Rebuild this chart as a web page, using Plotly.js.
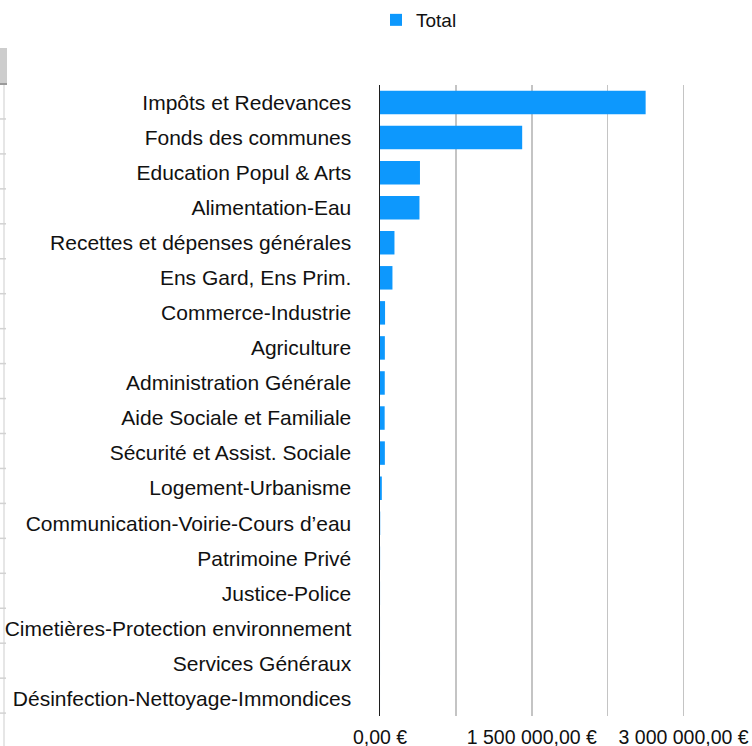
<!DOCTYPE html>
<html>
<head>
<meta charset="utf-8">
<script src="https://cdn.plot.ly/plotly-3.0.1.min.js"></script>
<style>html,body{margin:0;padding:0;background:#fff;}#chart{width:752px;height:746px;}</style>
</head>
<body>
<div id="chart"></div>
<script>
const categories = [
  "Impôts et Redevances",
  "Fonds des communes",
  "Education Popul & Arts",
  "Alimentation-Eau",
  "Recettes et dépenses générales",
  "Ens Gard, Ens Prim.",
  "Commerce-Industrie",
  "Agriculture",
  "Administration Générale",
  "Aide Sociale et Familiale",
  "Sécurité et Assist. Sociale",
  "Logement-Urbanisme",
  "Communication-Voirie-Cours d’eau",
  "Patrimoine Privé",
  "Justice-Police",
  "Cimetières-Protection environnement",
  "Services Généraux",
  "Désinfection-Nettoyage-Immondices"
];
const totals = [2625000, 1405000, 395000, 390000, 143000, 123000, 50000, 48000, 47000, 46000, 48000, 18000, 2000, 1000, 500, 300, 200, 100];
const seriesName = "Total";
const xTickVals = [0, 750000, 1500000, 2250000, 3000000];
const xTickText = ["0,00 €", "", "1 500 000,00 €", "", "3 000 000,00 €"];

const W = 752, H = 746;
const M = {l: 380, r: 0, t: 85, b: 30};
const plotW = W - M.l - M.r, plotH = H - M.t - M.b;
const px = v => (v - M.l) / plotW;
const py = v => (H - M.b - v) / plotH;

// decorative spreadsheet row-header strip at the left edge
const shapes = [];
shapes.push({type: 'rect', xref: 'paper', yref: 'paper', x0: px(0), x1: px(7), y0: py(84), y1: py(48),
  fillcolor: '#cdcdcd', line: {width: 0}, layer: 'below'});
shapes.push({type: 'line', xref: 'paper', yref: 'paper', x0: px(0), x1: px(7), y0: py(84), y1: py(84),
  line: {color: '#9a9a9a', width: 2}});
shapes.push({type: 'line', xref: 'paper', yref: 'paper', x0: px(4), x1: px(4), y0: py(85), y1: py(746),
  line: {color: '#dedede', width: 1.5}});
for (let k = 1; k <= 18; k++) {
  const yy = 84 + 34.95 * k;
  shapes.push({type: 'line', xref: 'paper', yref: 'paper', x0: px(0), x1: px(6), y0: py(yy), y1: py(yy),
    line: {color: '#d2d2d2', width: 1.5}});
}

const trace = {
  type: 'bar',
  orientation: 'h',
  name: seriesName,
  y: categories,
  x: totals,
  marker: {color: '#0d98fd', line: {width: 0}},
  showlegend: true,
  hoverinfo: 'none'
};

const layout = {
  width: W, height: H,
  margin: M,
  paper_bgcolor: '#ffffff',
  plot_bgcolor: '#ffffff',
  font: {family: '"Liberation Sans", Arial, sans-serif', color: '#111111', size: 20},
  bargap: 0.33,
  showlegend: true,
  legend: {
    orientation: 'h',
    x: px(376), xanchor: 'left',
    y: py(20), yanchor: 'middle',
    font: {size: 19, color: '#111111'},
    bgcolor: 'rgba(0,0,0,0)'
  },
  xaxis: {
    range: [0, 3676000],
    tickmode: 'array',
    tickvals: xTickVals,
    ticktext: xTickText,
    showgrid: true,
    gridcolor: '#c4c4c4',
    gridwidth: 1.5,
    zeroline: false,
    showline: false,
    ticks: '',
    ticklabelstandoff: 7,
    tickfont: {size: 19.5, color: '#111111'},
    fixedrange: true
  },
  yaxis: {
    autorange: 'reversed',
    type: 'category',
    showgrid: false,
    zeroline: false,
    showline: true,
    linecolor: '#1e1e1e',
    linewidth: 1.5,
    ticks: '',
    ticklabelstandoff: 23,
    tickfont: {size: 21, color: '#111111'},
    fixedrange: true
  },
  shapes: shapes
};

Plotly.newPlot('chart', [trace], layout, {displayModeBar: false, staticPlot: true});
</script>
</body>
</html>
